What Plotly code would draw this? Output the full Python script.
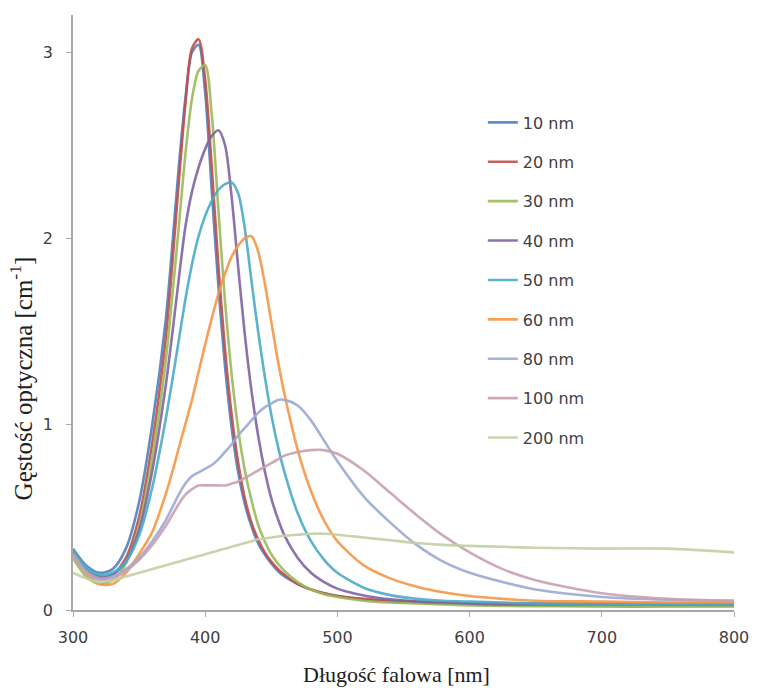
import plotly.graph_objects as go

wavelength = [300, 310, 320, 330, 340, 350, 360, 370, 375, 380, 385, 390, 395, 400, 405,
              410, 415, 420, 425, 430, 435, 440, 445, 450, 455, 460, 470, 480, 490, 500,
              520, 540, 560, 580, 600, 625, 650, 700, 750, 800]

od_10nm = [0.33, 0.24, 0.20, 0.22, 0.33, 0.58, 1.00, 1.55, 1.95, 2.38, 2.75, 3.00, 3.04, 2.78, 2.25,
           1.74, 1.31, 0.98, 0.74, 0.57, 0.45, 0.36, 0.30, 0.25, 0.21, 0.18, 0.14, 0.11, 0.09, 0.075,
           0.055, 0.045, 0.04, 0.035, 0.03, 0.027, 0.025, 0.02, 0.02, 0.02]
od_20nm = [0.30, 0.21, 0.17, 0.19, 0.28, 0.50, 0.90, 1.45, 1.85, 2.30, 2.72, 3.02, 3.07, 2.85, 2.38,
           1.85, 1.40, 1.05, 0.79, 0.60, 0.47, 0.38, 0.31, 0.26, 0.22, 0.19, 0.14, 0.11, 0.09, 0.075,
           0.06, 0.05, 0.045, 0.04, 0.035, 0.035, 0.035, 0.035, 0.035, 0.035]
od_30nm = [0.28, 0.18, 0.14, 0.16, 0.25, 0.45, 0.82, 1.33, 1.68, 2.06, 2.45, 2.75, 2.90, 2.93, 2.66,
           2.15, 1.66, 1.27, 0.97, 0.75, 0.59, 0.46, 0.37, 0.30, 0.25, 0.21, 0.15, 0.11, 0.085, 0.07,
           0.05, 0.04, 0.035, 0.03, 0.025, 0.022, 0.02, 0.02, 0.02, 0.02]
od_40nm = [0.31, 0.22, 0.18, 0.19, 0.26, 0.43, 0.75, 1.20, 1.48, 1.78, 2.06, 2.25, 2.38, 2.48, 2.55,
           2.58, 2.50, 2.22, 1.84, 1.48, 1.18, 0.94, 0.75, 0.60, 0.49, 0.40, 0.28, 0.20, 0.15, 0.115,
           0.078, 0.057, 0.046, 0.04, 0.035, 0.03, 0.03, 0.03, 0.03, 0.03]
od_50nm = [0.32, 0.23, 0.19, 0.20, 0.26, 0.40, 0.66, 1.02, 1.23, 1.45, 1.67, 1.86, 2.01, 2.12, 2.20,
           2.26, 2.29, 2.30, 2.24, 2.05, 1.77, 1.50, 1.26, 1.05, 0.88, 0.74, 0.52, 0.37, 0.27, 0.20,
           0.12, 0.08, 0.06, 0.05, 0.045, 0.04, 0.035, 0.03, 0.03, 0.03]
od_60nm = [0.30, 0.20, 0.14, 0.14, 0.20, 0.30, 0.42, 0.62, 0.74, 0.87, 1.00, 1.13, 1.28, 1.43, 1.57,
           1.70, 1.81, 1.90, 1.96, 2.00, 2.01, 1.93, 1.76, 1.55, 1.34, 1.16, 0.86, 0.64, 0.48, 0.37,
           0.24, 0.17, 0.125, 0.095, 0.075, 0.06, 0.05, 0.045, 0.04, 0.04]
od_80nm = [0.30, 0.21, 0.17, 0.18, 0.22, 0.28, 0.37, 0.48, 0.55, 0.62, 0.68, 0.72, 0.74, 0.76, 0.78,
           0.81, 0.85, 0.89, 0.94, 0.98, 1.02, 1.06, 1.09, 1.11, 1.13, 1.13, 1.10, 1.02, 0.91, 0.80,
           0.61, 0.47, 0.35, 0.26, 0.20, 0.15, 0.11, 0.07, 0.055, 0.05]
od_100nm = [0.30, 0.20, 0.16, 0.17, 0.21, 0.27, 0.35, 0.45, 0.51, 0.57, 0.62, 0.65, 0.67, 0.67, 0.67,
            0.67, 0.67, 0.68, 0.69, 0.71, 0.73, 0.75, 0.77, 0.79, 0.81, 0.83, 0.85, 0.86, 0.86, 0.84,
            0.75, 0.63, 0.51, 0.40, 0.31, 0.22, 0.16, 0.09, 0.06, 0.05]
od_200nm = [0.20, 0.17, 0.15, 0.16, 0.18, 0.20, 0.22, 0.24, 0.25, 0.26, 0.27, 0.28, 0.29, 0.30, 0.31,
            0.32, 0.33, 0.34, 0.35, 0.36, 0.37, 0.38, 0.385, 0.39, 0.395, 0.40, 0.405, 0.41, 0.41, 0.405,
            0.39, 0.375, 0.36, 0.35, 0.345, 0.34, 0.335, 0.33, 0.33, 0.31]

series_names = ["10 nm", "20 nm", "30 nm", "40 nm", "50 nm", "60 nm", "80 nm", "100 nm", "200 nm"]
series_values = [od_10nm, od_20nm, od_30nm, od_40nm, od_50nm, od_60nm, od_80nm, od_100nm, od_200nm]
series_colors = ["#4F81BD", "#C0504D", "#9BBB59", "#8064A2", "#4BACC6", "#F79646",
                 "#9CAAD4", "#C9A0B0", "#C4D0A6"]

x_ticks = [300, 400, 500, 600, 700, 800]
y_ticks = [0, 1, 2, 3]

fig = go.Figure()
for i, (name, vals, col) in enumerate(zip(series_names, series_values, series_colors)):
    fig.add_trace(go.Scatter(
        x=wavelength, y=vals, name=name, mode="lines",
        line=dict(color=col, width=2.6, shape="spline", smoothing=0.8),
        opacity=0.9, legendgroup=name,
    ))

axis_color = "#A8A8A8"
sans = "DejaVu Sans, Arial, sans-serif"
serif = "Liberation Serif, Times New Roman, serif"
fig.update_layout(
    width=761, height=688,
    margin=dict(l=73, r=18, t=15, b=78),
    paper_bgcolor="white", plot_bgcolor="white",
    showlegend=True,
    legend=dict(
        x=0.62, y=0.848, xanchor="left", yanchor="top",
        font=dict(family=sans, size=16, color="#404040"),
        traceorder="grouped", tracegroupgap=15.6,
        bgcolor="rgba(0,0,0,0)", itemwidth=30,
    ),
    xaxis=dict(
        range=[300, 800], tickvals=x_ticks, ticktext=[str(v) for v in x_ticks],
        showgrid=False, zeroline=False, showline=True, linecolor=axis_color, linewidth=1.5,
        ticks="outside", ticklen=5, tickcolor=axis_color, ticklabelstandoff=7,
        tickfont=dict(family=sans, size=16, color="#404040"),
    ),
    yaxis=dict(
        range=[0, 3.2], tickvals=y_ticks, ticktext=[str(v) for v in y_ticks],
        showgrid=False, zeroline=False, showline=True, linecolor=axis_color, linewidth=1.5,
        ticks="outside", ticklen=5, tickcolor=axis_color, ticklabelstandoff=10,
        tickfont=dict(family=sans, size=16, color="#404040"),
    ),
    annotations=[
        dict(text="Długość falowa [nm]", x=0.49, y=-0.108, xref="paper", yref="paper",
             xanchor="center", yanchor="middle", showarrow=False,
             font=dict(family=serif, size=22, color="#202020")),
        dict(text="Gęstość optyczna [cm<sup>-1</sup>]", x=-0.078, y=0.39, xref="paper", yref="paper",
             xanchor="center", yanchor="middle", showarrow=False, textangle=-90,
             font=dict(family=serif, size=25, color="#202020")),
    ],
)

fig.write_html("out.html")
